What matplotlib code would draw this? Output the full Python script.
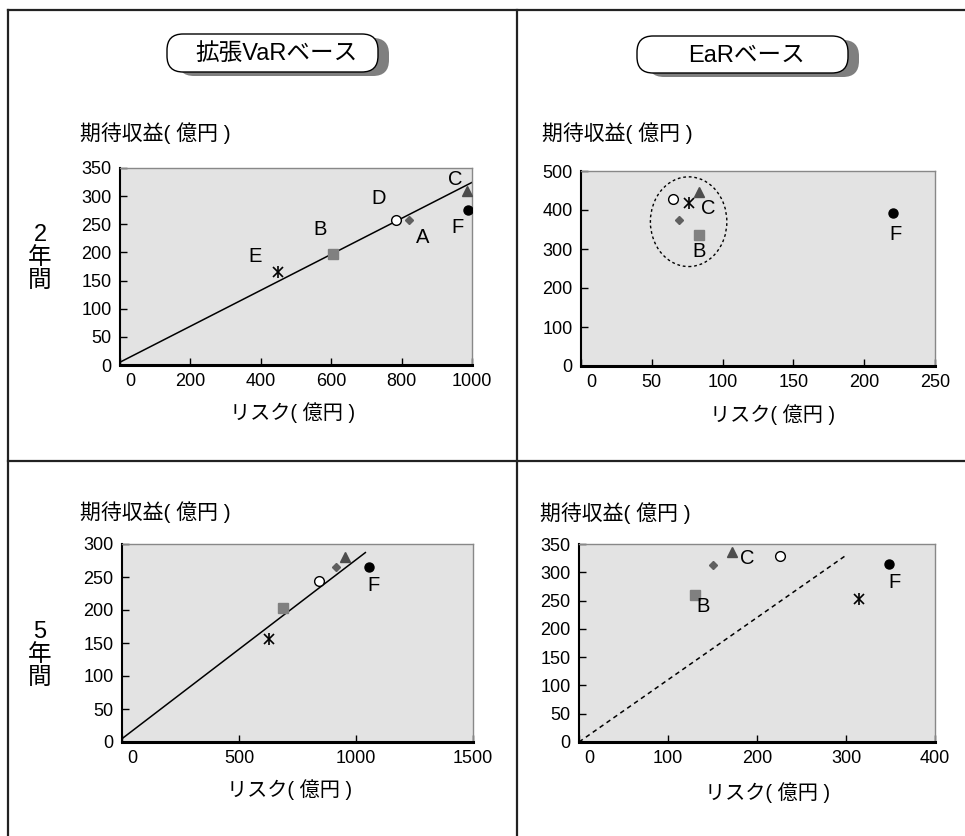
import matplotlib
matplotlib.use("Agg")
import matplotlib.pyplot as plt
from matplotlib.patches import FancyBboxPatch, Ellipse
from matplotlib.transforms import ScaledTranslation

plt.rcParams['font.family'] = ['Liberation Sans', 'Noto Sans CJK JP']

W, H = 965, 836

# points: A(diamond) B(square) C(triangle) D(open circle) E(asterisk) F(dot)
names = ['A', 'B', 'C', 'D', 'E', 'F']

var2_risk = [820, 605, 985, 783, 450, 990]
var2_ret = [258, 197, 310, 258, 165, 276]
var2_line_x = [0, 1005]
var2_line_y = [5, 326]

ear2_risk = [69, 83, 83, 65, 76, 220]
ear2_ret = [374, 336, 447, 427, 418, 392]
ear2_circle = (76, 370, 54, 230)  # centre x, centre y, width, height

var5_risk = [915, 690, 952, 843, 627, 1057]
var5_ret = [265, 203, 280, 244, 156, 265]
var5_line_x = [0, 1040]
var5_line_y = [5, 287]

ear5_risk = [150, 130, 172, 226, 315, 348]
ear5_ret = [312, 260, 335, 328, 253, 315]
ear5_line_x = [0, 300]
ear5_line_y = [0, 330]

ylab = '期待収益( 億円 )'
xlab = 'リスク( 億円 )'

styles = [
    [dict(marker='D', ms=4.5, color='#5f5f5f', mec='#5f5f5f')],
    [dict(marker='s', ms=7.5, color='#808080', mec='#808080')],
    [dict(marker='^', ms=6.5, color='#4d4d4d', mec='#4d4d4d')],
    [dict(marker='o', ms=7, color='white', mec='black', mew=1)],
    [dict(marker='x', ms=7, color='black', mew=1.2),
     dict(marker='|', ms=8, color='black', mew=1.2)],
    [dict(marker='o', ms=6.5, color='black', mec='black')],
]

fig = plt.figure(figsize=(W / 100, H / 100), dpi=100)

# background layer in pixel coordinates
bg = fig.add_axes([0, 0, 1, 1])
bg.set_xlim(0, W)
bg.set_ylim(H, 0)
bg.axis('off')
lc = '#222222'
bg.plot([8, W], [10, 10], color=lc, lw=1.6)
bg.plot([8, W], [461, 461], color=lc, lw=1.6)
bg.plot([8, 8], [10, H], color=lc, lw=1.6)
bg.plot([517, 517], [10, H], color=lc, lw=1.6)

def title_box(x0, y0, w, h, text):
    sh = FancyBboxPatch((x0 + 11, y0 + 4), w, h, boxstyle='round,pad=0,rounding_size=16',
                        fc='#7f7f7f', ec='none')
    bx = FancyBboxPatch((x0, y0), w, h, boxstyle='round,pad=0,rounding_size=16',
                        fc='white', ec='black', lw=1.0)
    bg.add_patch(sh)
    bg.add_patch(bx)
    bg.text(x0 + w / 2 + 4, y0 + h / 2 + 1, text, fontsize=17, ha='center', va='center')

title_box(167, 34, 211, 38, '拡張VaRベース')
title_box(637, 36, 211, 37, 'EaRベース')

for x, y in [(80, 133), (542, 133), (80, 512), (540, 513)]:
    bg.text(x, y, ylab, fontsize=15, ha='left', va='center')
for x, y in [(293, 413), (773, 415), (290, 790), (768, 793)]:
    bg.text(x, y, xlab, fontsize=14.5, ha='center', va='center')
bg.text(40, 258, '2\n年\n間', fontsize=17, ha='center', va='center', linespacing=1.05)
bg.text(40, 655, '5\n年\n間', fontsize=17, ha='center', va='center', linespacing=1.05)


def make_ax(l, t, r, b):
    ax = fig.add_axes([l / W, 1 - b / H, (r - l) / W, (b - t) / H])
    ax.set_facecolor('#e3e3e3')
    ax.tick_params(direction='in', length=5, width=1, labelsize=13, pad=6)
    ax.spines['left'].set_linewidth(1.5)
    ax.spines['bottom'].set_linewidth(2.2)
    for s in ['top', 'right']:
        ax.spines[s].set_color('#888888')
        ax.spines[s].set_linewidth(1)
    return ax


def points(ax, xs, ys, labels, offsets):
    for i in range(len(xs)):
        for st in styles[i]:
            ax.plot([xs[i]], [ys[i]], ls='none', zorder=4, **st)
    for n, (dx, dy) in zip(labels, offsets):
        i = names.index(n)
        ax.annotate(n, (xs[i], ys[i]), xytext=(dx, dy), textcoords='offset pixels',
                    ha='center', va='center', fontsize=14.5, zorder=5)


def finish(ax, xt, yt):
    ax.set_xticks(xt)
    ax.set_yticks(yt)
    ax.set_xlim(xt[0], xt[-1])
    ax.set_ylim(yt[0], yt[-1])
    lab = ax.get_xticklabels()[0]
    lab.set_transform(lab.get_transform() + ScaledTranslation(0.1, 0, fig.dpi_scale_trans))


# 2年 拡張VaR
ax1 = make_ax(120, 168, 472, 365)
ax1.plot(var2_line_x, var2_line_y, color='black', lw=1.1)
points(ax1, var2_risk, var2_ret, ['E', 'B', 'D', 'A', 'C', 'F'],
       [(-23, 16), (-13, 25), (-17, 21), (14, -18), (-11, 11), (-11, -18)])
finish(ax1, list(range(0, 1001, 200)), list(range(0, 351, 50)))

# 2年 EaR
ax2 = make_ax(581, 171, 935, 366)
cx, cy, cw, ch = ear2_circle
ax2.add_patch(Ellipse((cx, cy), cw, ch, fill=False, ls=(0, (2, 2)), lw=1.0, ec='black'))
points(ax2, ear2_risk, ear2_ret, ['C', 'B', 'F'], [(10, -17), (1, -17), (3, -21)])
finish(ax2, list(range(0, 251, 50)), list(range(0, 501, 100)))

# 5年 拡張VaR
ax3 = make_ax(122, 544, 473, 742)
ax3.plot(var5_line_x, var5_line_y, color='black', lw=1.1)
points(ax3, var5_risk, var5_ret, ['F'], [(4, -18)])
finish(ax3, list(range(0, 1501, 500)), list(range(0, 301, 50)))

# 5年 EaR
ax4 = make_ax(579, 544, 935, 742)
ax4.plot(ear5_line_x, ear5_line_y, color='black', lw=1.1, ls=(0, (3, 2.5)))
points(ax4, ear5_risk, ear5_ret, ['C', 'B', 'F'], [(15, -6), (8, -12), (6, -19)])
finish(ax4, list(range(0, 401, 100)), list(range(0, 351, 50)))

fig.savefig('out.png', dpi=100)
